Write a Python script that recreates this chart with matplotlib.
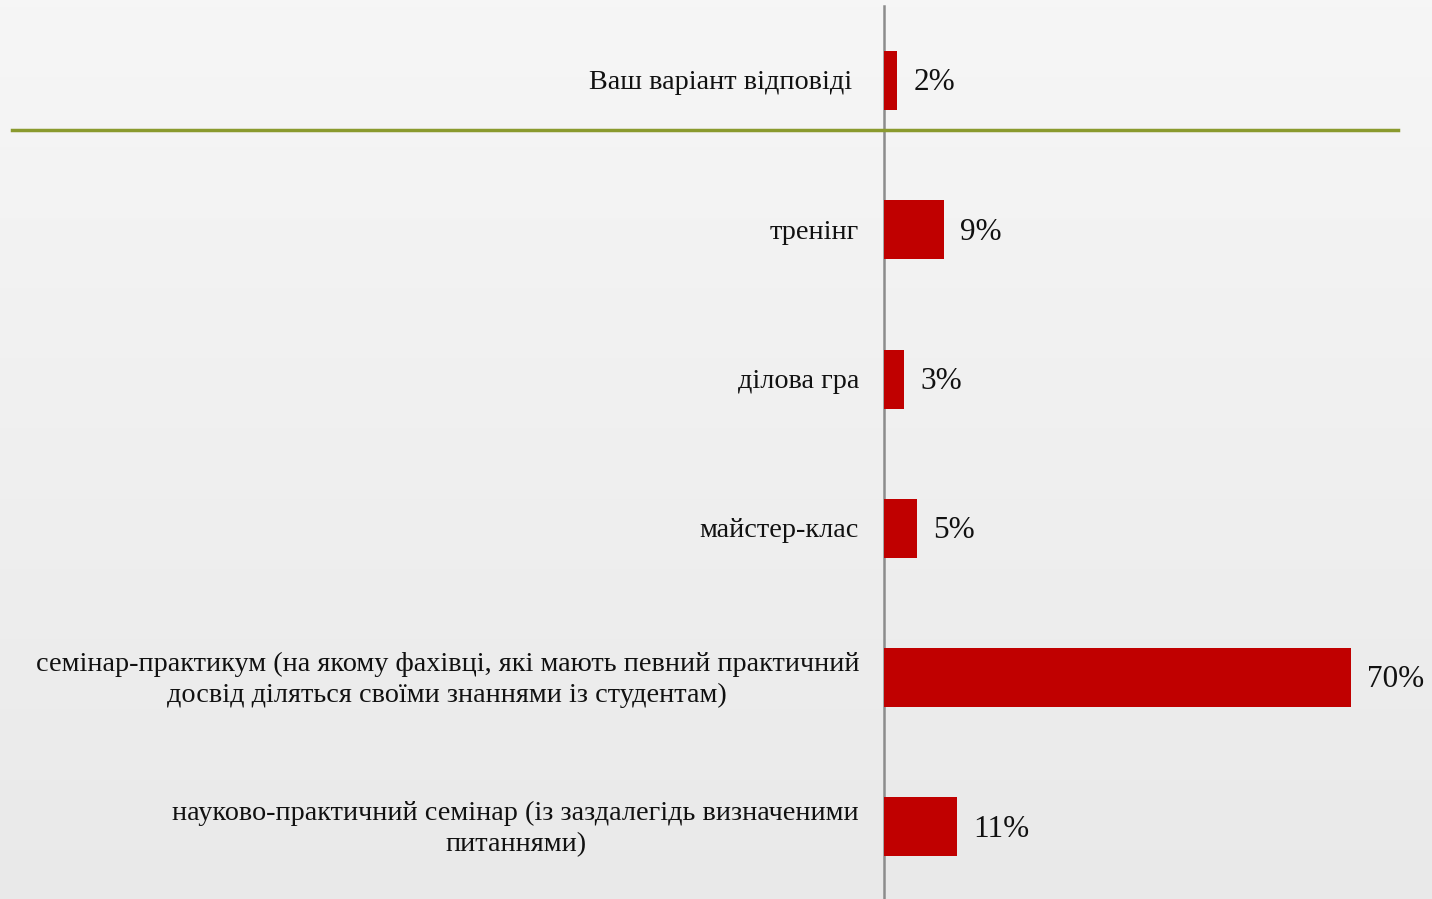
"""Horizontal bar chart: forms of practical training preferred by students."""
import matplotlib
matplotlib.use('Agg')
import matplotlib.pyplot as plt
from matplotlib.lines import Line2D
import numpy as np

# bottom -> top
CATEGORIES = [
    'науково-практичний семінар (із заздалегідь визначеними\nпитаннями)',
    'семінар-практикум (на якому фахівці, які мають певний практичний\nдосвід діляться своїми знаннями із студентам)',
    'майстер-клас',
    'ділова гра',
    'тренінг',
    'Ваш варіант відповіді',
]
VALUES = [11, 70, 5, 3, 9, 2]

W, H = 1432, 899
BAR_COLOR = '#C00000'
AXIS_COLOR = '#8c8c8c'
GREEN = '#8a9a2e'

plt.rcParams['font.family'] = ['Liberation Serif', 'DejaVu Serif']

fig = plt.figure(figsize=(W / 100, H / 100), dpi=100)

# slide background: soft vertical gradient
bg = fig.add_axes([0, 0, 1, 1], zorder=-10)
grad = np.linspace(0.965, 0.915, 256).reshape(-1, 1)
bg.imshow(np.dstack([grad, grad, grad]), aspect='auto', extent=[0, 1, 0, 1])
bg.set_axis_off()

# axes: x=0 at px 884, 6.67 px per percent; y from px 6 to bottom
px_per = (1351 - 884) / 70
left = 884 / W
width = (W - 884) / W
xmax = (W - 884) / px_per
ax = fig.add_axes([left, 0, width, (H - 6) / H])
ax.patch.set_alpha(0)

y = np.arange(len(CATEGORIES))
ax.barh(y, VALUES, height=0.395, color=BAR_COLOR, zorder=3)
ax.set_xlim(0, xmax)
ax.set_ylim(-0.483, 5.5)

# nudge text down a touch so the glyphs sit on the bar centre
dy = -0.015
for yi, v in zip(y, VALUES):
    ax.text(v + 16 / px_per, yi + dy, f'{v}%', va='center', ha='left',
            fontsize=22.5, color='#111111')

for yi, lab in zip(y, CATEGORIES):
    off = 32 if yi == 5 else 25
    ax.text(-off / px_per, yi + dy, lab, va='center', ha='right',
            multialignment='center', fontsize=20.3, color='#111111',
            clip_on=False, linespacing=1.3)

for s in ['top', 'right', 'bottom']:
    ax.spines[s].set_visible(False)
ax.spines['left'].set_color(AXIS_COLOR)
ax.spines['left'].set_linewidth(1.8)
ax.set_xticks([])
ax.set_yticks([])

# green separator line of the slide
fig.add_artist(Line2D([12 / W, 1398 / W], [1 - 130 / H, 1 - 130 / H],
                      color=GREEN, linewidth=2.5, zorder=1))

fig.savefig('out.png', dpi=100)
